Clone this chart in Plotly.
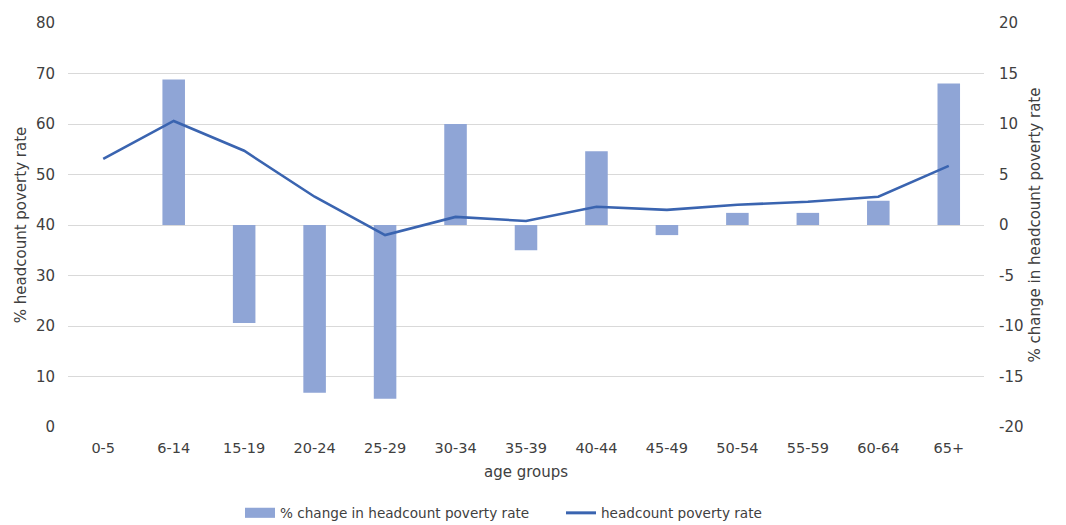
import plotly.graph_objects as go

age_groups = ["0-5", "6-14", "15-19", "20-24", "25-29", "30-34", "35-39",
              "40-44", "45-49", "50-54", "55-59", "60-64", "65+"]
pct_change = [None, 14.4, -9.7, -16.6, -17.2, 10.0, -2.5,
              7.3, -1.0, 1.2, 1.2, 2.4, 14.0]
poverty_rate = [53.1, 60.6, 54.7, 45.6, 38.0, 41.6, 40.8,
                43.6, 43.0, 44.0, 44.6, 45.6, 51.7]
right_ticks = [-20, -15, -10, -5, 0, 5, 10, 15, 20]
right_tick_text = ["-20", "-15", "-10", "-5", "0", "5", "10", "15", "20"]

FONT = "DejaVu Sans"
TXT = "#404040"
BAR_C = "#8FA5D6"
LINE_C = "#3A64B0"

fig = go.Figure()
# bars on the right-hand axis (primary y, drawn first)
fig.add_trace(go.Bar(
    x=age_groups, y=pct_change, yaxis="y",
    name="% change in headcount poverty rate",
    marker=dict(color=BAR_C, line=dict(width=0)),
    width=0.32, showlegend=False,
))
# line on the left-hand axis (overlaying, drawn on top)
fig.add_trace(go.Scatter(
    x=age_groups, y=poverty_rate, yaxis="y2",
    name="headcount poverty rate", mode="lines",
    line=dict(color=LINE_C, width=2.6), showlegend=False,
))
# legend entries (bar symbol drawn as a wide rectangle like the reference)
fig.add_trace(go.Scatter(
    x=[None], y=[None], mode="lines", name="% change in headcount poverty rate",
    line=dict(color=BAR_C, width=10), showlegend=True,
))
fig.add_trace(go.Scatter(
    x=[None], y=[None], mode="lines", name="headcount poverty rate",
    line=dict(color=LINE_C, width=3), showlegend=True,
))

fig.update_layout(
    width=1066, height=525,
    margin=dict(l=68, r=82, t=23, b=98, autoexpand=False),
    paper_bgcolor="white", plot_bgcolor="white",
    font=dict(family=FONT, size=14.5, color=TXT),
    showlegend=True,
    legend=dict(orientation="h", x=(240 - 68) / 916, xanchor="left",
                yref="container", y=1 - 513 / 525, yanchor="middle",
                font=dict(size=13.6, color=TXT), traceorder="normal",
                itemwidth=30, entrywidth=276, bgcolor="rgba(0,0,0,0)"),
    xaxis=dict(
        title=dict(text="age groups", standoff=11, font=dict(size=15)),
        showgrid=False, showline=False, zeroline=False, automargin=False,
        ticks="", ticklabelstandoff=10, tickfont=dict(size=14.5),
    ),
    yaxis=dict(
        title=dict(text="% change in headcount poverty rate", standoff=6, font=dict(size=15)),
        range=[-20, 20], tickvals=right_ticks, ticktext=right_tick_text,
        side="right", automargin=False,
        showgrid=True, gridcolor="#D9D9D9", gridwidth=1.3,
        zeroline=False, showline=False, ticks="",
        ticklabelstandoff=14, tickfont=dict(size=15),
    ),
    yaxis2=dict(
        title=dict(text="% headcount poverty rate", standoff=5, font=dict(size=15)),
        range=[0, 80], dtick=10, tick0=0, automargin=False,
        overlaying="y", side="left",
        showgrid=False, zeroline=False, showline=False, ticks="",
        ticklabelstandoff=12, tickfont=dict(size=15),
    ),
)

fig.write_html("out.html")
